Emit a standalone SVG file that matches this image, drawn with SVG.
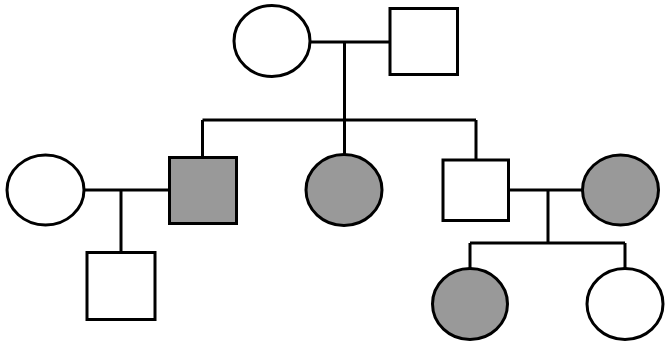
<svg xmlns="http://www.w3.org/2000/svg" width="671" height="347" viewBox="0 0 671 347">
<style>
.n{stroke:#000;stroke-width:3;fill:#fff}
.a{fill:#999999}
.c{stroke:#000;stroke-width:3;fill:none}
</style>
<rect width="671" height="347" fill="#fff"/>
<g id="connectors">
<path class="c" d="M310,42H390M344.5,42V120M202.5,120H476M202.5,120V158M344.5,120V155M476,120V160M84,190H169.5M121,190V253M508,190H582.5M548,190V243M470,243H625M470,243V268.5M625,243V268.5"/>
</g>
<g id="gf"><ellipse class="n" cx="272" cy="41" rx="38" ry="35.5"/></g>
<g id="gm"><rect class="n" x="390" y="8.5" width="67.5" height="66"/></g>
<g id="w1"><ellipse class="n" cx="45.5" cy="190" rx="38.5" ry="35"/></g>
<g id="s1"><rect class="n a" x="169.5" y="157.5" width="67" height="66"/></g>
<g id="d1"><ellipse class="n a" cx="344" cy="190" rx="38" ry="35.5"/></g>
<g id="s2"><rect class="n" x="443" y="160" width="65.5" height="60.5"/></g>
<g id="w2"><ellipse class="n a" cx="620.5" cy="190" rx="38" ry="35"/></g>
<g id="gs"><rect class="n" x="87" y="252.5" width="68" height="67"/></g>
<g id="gd1"><ellipse class="n a" cx="470" cy="304" rx="37.5" ry="35.5"/></g>
<g id="gd2"><ellipse class="n" cx="625" cy="304" rx="38" ry="35.5"/></g>
</svg>
